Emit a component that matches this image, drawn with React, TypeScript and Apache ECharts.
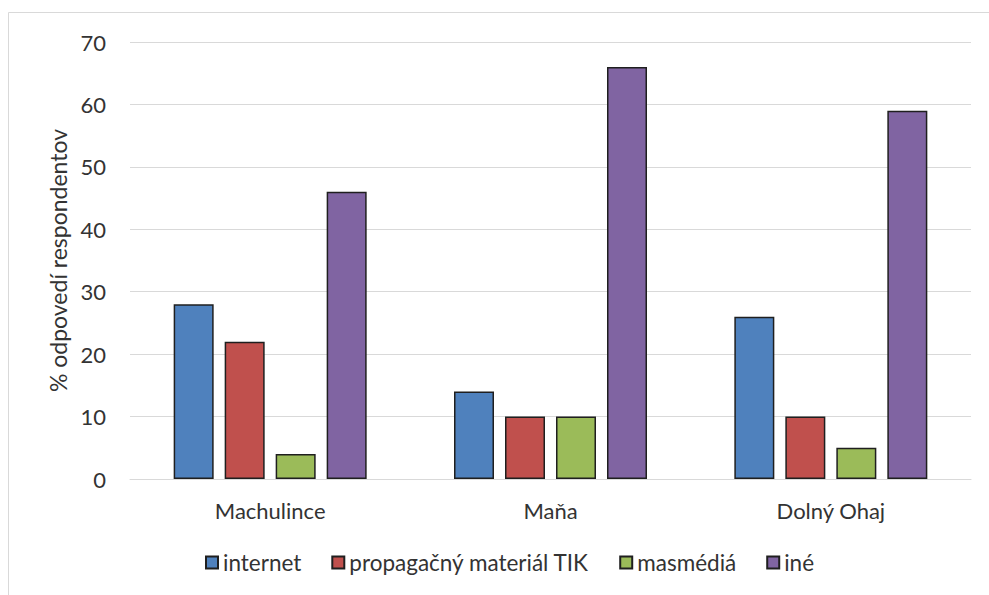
import React, { useEffect, useRef } from "react";
import * as echarts from "echarts";

const categories = ["Machulince", "Maňa", "Dolný Ohaj"];
const seriesNames = ["internet", "propagačný materiál TIK", "masmédiá", "iné"];
const internet = [28, 14, 26];
const propagacny = [22, 10, 10];
const masmedia = [4, 10, 5];
const ine = [46, 66, 59];
const colors = ["#4F81BD", "#C0504D", "#9BBB59", "#8064A2"];
const yAxisName = "% odpovedí respondentov";

const FONT = "Lato, 'Open Sans', sans-serif";
const TEXT = "#333333";

export default function App() {
  const ref = useRef<HTMLDivElement>(null);
  useEffect(() => {
    if (!ref.current) return;
    const chart = echarts.init(ref.current, undefined, { renderer: "svg" });
    const values = [internet, propagacny, masmedia, ine];
    chart.setOption({
      animation: false,
      backgroundColor: "#ffffff",
      textStyle: { fontFamily: FONT },
      graphic: [
        {
          type: "rect",
          shape: { x: 8.5, y: 12.5, width: 1000, height: 600 },
          style: { fill: "none", stroke: "#d9d9d9", lineWidth: 1 },
          silent: true,
        },
      ],
      grid: { left: 130, right: 18, top: 42, bottom: 116 },
      legend: {
        top: 546,
        left: 200,
        itemWidth: 12,
        itemHeight: 12,
        itemGap: 30,
        icon: "rect",
        textStyle: { fontFamily: FONT, fontSize: 22.5, color: TEXT, padding: [0, 0, 0, 0] },
        data: seriesNames,
      },
      xAxis: {
        type: "category",
        data: categories,
        axisLine: { show: true, lineStyle: { color: "#d9d9d9", width: 1 } },
        axisTick: { show: false },
        axisLabel: { fontFamily: FONT, fontSize: 22, color: TEXT, margin: 20 },
      },
      yAxis: {
        type: "value",
        min: 0,
        max: 70,
        interval: 10,
        name: yAxisName,
        nameLocation: "middle",
        nameGap: 60,
        nameRotate: 90,
        nameTextStyle: { fontFamily: FONT, fontSize: 23, color: TEXT },
        axisLine: { show: false },
        axisTick: { show: false },
        splitLine: { lineStyle: { color: "#d9d9d9", width: 1 } },
        axisLabel: { fontFamily: FONT, fontSize: 22, color: TEXT, margin: 24 },
      },
      series: seriesNames.map((name, i) => ({
        name,
        type: "bar",
        data: values[i],
        barWidth: 40,
        barGap: "27.5%",
        itemStyle: { color: colors[i], borderColor: "#1f1f1f", borderWidth: 1.5 },
      })),
    });
    return () => chart.dispose();
  }, []);
  return (
    <div
      ref={ref}
      style={{ position: "fixed", left: 0, top: 0, width: 989, height: 595 }}
    />
  );
}
